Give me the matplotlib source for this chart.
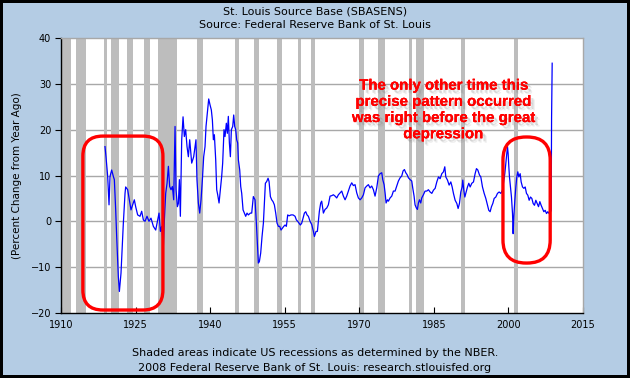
import matplotlib
matplotlib.use("Agg")
import matplotlib.pyplot as plt
import matplotlib.patheffects as pe
from matplotlib.patches import FancyBboxPatch
from matplotlib.transforms import IdentityTransform

# ---------------- data ----------------
title = "St. Louis Source Base (SBASENS)"
subtitle = "Source: Federal Reserve Bank of St. Louis"
ylabel = "(Percent Change from Year Ago)"
footer1 = "Shaded areas indicate US recessions as determined by the NBER."
footer2 = "2008 Federal Reserve Bank of St. Louis: research.stlouisfed.org"
note = "The only other time this\nprecise pattern occurred\nwas right before the great\ndepression"

x_ticks = [1910, 1925, 1940, 1955, 1970, 1985, 2000, 2015]
y_ticks = [-20, -10, 0, 10, 20, 30, 40]

recession_start = [1910.0, 1913.0, 1918.58, 1920.0, 1923.33, 1926.75, 1929.58, 1937.33,
                   1945.08, 1948.83, 1953.5, 1957.58, 1960.25, 1969.92, 1973.83,
                   1980.0, 1981.5, 1990.5, 2001.17]
recession_end = [1912.08, 1915.0, 1919.25, 1921.58, 1924.58, 1927.92, 1933.25, 1938.5,
                 1945.83, 1949.83, 1954.42, 1958.33, 1961.17, 1970.92, 1975.25,
                 1980.58, 1982.92, 1991.25, 2001.92]

years = [
    1918.85, 1919.05, 1919.39, 1919.66, 1919.86, 1920.19, 1920.53, 1920.73, 1921.0, 1921.2,
    1921.53, 1921.74, 1922.07, 1922.54, 1922.88, 1923.01, 1923.41, 1923.75, 1924.08, 1924.42,
    1924.75, 1925.02, 1925.42, 1925.89, 1926.23, 1926.57, 1926.9, 1927.3, 1927.7, 1928.1,
    1928.58, 1929.05, 1929.45, 1929.72, 1929.99, 1930.25, 1930.59, 1930.79, 1931.06, 1931.33,
    1931.6, 1931.86, 1932.13, 1932.4, 1932.67, 1932.94, 1933.14, 1933.41, 1933.61, 1933.81,
    1934.01, 1934.28, 1934.55, 1934.81, 1935.08, 1935.35, 1935.62, 1935.89, 1936.29, 1936.69,
    1936.96, 1937.15, 1937.35, 1937.63, 1937.9, 1938.17, 1938.44, 1938.7, 1938.97,
    1939.17, 1939.5, 1939.71, 1939.98, 1940.24, 1940.45, 1940.65, 1940.85, 1941.12, 1941.32,
    1941.52, 1941.79, 1942.05, 1942.32, 1942.52, 1942.79, 1942.99, 1943.26, 1943.46, 1943.66,
    1943.87, 1944.07, 1944.27, 1944.54, 1944.74, 1944.94, 1945.14, 1945.34, 1945.54, 1945.68,
    1945.95, 1946.15, 1946.35, 1946.62, 1946.88, 1947.15, 1947.42, 1947.69, 1948.09, 1948.36,
    1948.69, 1949.03, 1949.3, 1949.5, 1949.7, 1949.9, 1950.17, 1950.44, 1950.71, 1950.91,
    1951.11, 1951.38, 1951.65, 1951.85, 1952.12, 1952.38, 1952.65, 1952.92, 1953.19, 1953.46,
    1953.73, 1953.99, 1954.26, 1954.53, 1954.8, 1955.07, 1955.33, 1955.6, 1955.87, 1956.27,
    1956.68, 1957.08, 1957.35, 1957.61, 1957.88, 1958.15, 1958.42, 1958.69, 1958.96, 1959.23,
    1959.49, 1959.76,
    1960.1, 1960.43, 1960.77, 1960.97, 1961.3, 1961.57, 1961.77, 1961.97, 1962.24, 1962.44,
    1962.78, 1963.11, 1963.45, 1963.78, 1964.12, 1964.46, 1964.79, 1965.13, 1965.46, 1965.8,
    1966.13, 1966.47, 1966.8, 1967.14, 1967.47, 1967.81, 1968.14, 1968.48, 1968.81, 1969.15,
    1969.49, 1969.82, 1970.16, 1970.49, 1970.83, 1971.16, 1971.5, 1971.83, 1972.17, 1972.5,
    1972.84, 1973.17, 1973.51, 1973.85, 1974.18, 1974.52, 1974.72, 1974.99, 1975.19, 1975.39,
    1975.66, 1975.86, 1976.19, 1976.53, 1976.86, 1977.2, 1977.53, 1977.87, 1978.21, 1978.54,
    1978.81, 1979.08, 1979.35, 1979.61, 1979.88, 1980.22, 1980.55, 1980.75, 1981.02, 1981.22,
    1981.49, 1981.69, 1981.89, 1982.1, 1982.36, 1982.56, 1982.9, 1983.23, 1983.57, 1983.9,
    1984.25, 1984.59, 1984.92, 1985.26, 1985.59, 1985.93, 1986.26, 1986.6, 1986.93, 1987.2,
    1987.4, 1987.74, 1988.07, 1988.41, 1988.68, 1988.94, 1989.28, 1989.62, 1989.88, 1990.15,
    1990.42, 1990.69, 1990.82, 1991.02, 1991.23, 1991.49, 1991.76, 1992.03, 1992.3, 1992.63,
    1992.97, 1993.3, 1993.57, 1993.84, 1994.18, 1994.44, 1994.78, 1995.12, 1995.45, 1995.79,
    1996.05, 1996.32, 1996.59, 1996.86, 1997.13, 1997.46, 1997.8, 1998.13, 1998.47, 1998.8,
    1999.0, 1999.27, 1999.54, 1999.81, 1999.94, 2000.08, 2000.21, 2000.41, 2000.61, 2000.82,
    2000.95, 2001.08, 2001.29, 2001.49, 2001.69, 2001.89, 2002.09, 2002.36, 2002.56, 2002.83,
    2003.1, 2003.37, 2003.63, 2003.9, 2004.17, 2004.44, 2004.71, 2004.97, 2005.24, 2005.51,
    2005.78, 2006.05, 2006.32, 2006.58, 2006.85, 2007.12, 2007.39, 2007.66, 2007.93, 2008.19,
    2008.45, 2008.6, 2008.68, 2008.8,
]
pct_change = [
    16.3, 14.1, 9.8, 3.6, 9.8, 11.2, 9.8, 9.1, 2.5, -3.3,
    -12.0, -15.3, -11.3, -0.4, 6.1, 7.5, 6.9, 4.7, 2.5, 3.6,
    4.7, 3.2, 1.4, 1.1, 2.2, 0.3, 0.0, 1.1, 0.0, 0.7,
    -1.1, -1.9, 0.3, 1.8, -2.2, -1.1, -5.5, 0.3, 6.1, 8.3,
    12.0, 7.6, 6.9, 7.6, 4.7, 20.7, 6.9, 3.2, 3.9, 9.1,
    1.1, 17.8, 22.8, 18.5, 20.0, 16.3, 14.1, 17.8, 12.7, 14.1,
    16.3, 17.8, 9.1, 4.0, 1.8, 4.7, 9.1, 14.1, 16.3,
    20.7, 24.3, 26.7, 25.4, 24.3, 22.1, 17.8, 18.9, 13.4, 6.9,
    5.8, 4.0, 6.9, 9.8, 12.7, 20.0, 18.5, 21.4, 19.2, 22.9,
    17.1, 14.1, 20.0, 20.7, 23.2, 20.7, 20.0, 17.8, 17.1, 13.4,
    11.2, 7.6, 6.1, 2.5, 1.8, 1.1, 1.8, 1.4, 1.8, 1.8,
    5.4, 4.7, -0.4, -4.8, -9.1, -8.8, -6.9, -3.3, -0.4, 4.0,
    8.3, 8.7, 9.4, 8.7, 5.4, 4.7, 4.3, 3.6, 1.8, -0.4,
    -1.1, -1.1, -1.9, -1.5, -1.1, -0.8, -1.1, 1.4, 1.2, 1.4,
    1.4, 1.1, 0.3, 0.0, -0.4, -0.8, -0.4, 0.7, 1.8, 2.1,
    1.4, 1.1,
    0.0, -0.7, -2.2, -3.3, -2.2, -2.2, 0.0, 2.2, 4.0, 4.4,
    1.8, 2.6, 2.9, 3.6, 5.5, 5.6, 5.8, 5.5, 5.1, 5.8,
    6.2, 6.6, 5.5, 4.7, 5.5, 6.6, 7.7, 8.4, 7.8, 8.0,
    6.2, 5.1, 4.7, 5.1, 5.8, 7.3, 7.7, 8.0, 7.3, 7.7,
    6.9, 5.5, 7.3, 9.9, 10.4, 10.6, 9.1, 8.0, 6.2, 4.0,
    4.7, 4.4, 5.1, 5.5, 6.6, 6.6, 7.7, 8.8, 9.5, 9.9,
    11.0, 11.3, 10.6, 10.2, 9.5, 9.1, 8.8, 7.3, 5.5, 3.6,
    2.9, 2.6, 4.0, 4.7, 4.0, 5.1, 5.8, 6.6, 6.6, 6.9,
    6.4, 6.1, 6.8, 7.2, 8.6, 9.7, 9.3, 10.4, 10.8, 11.9,
    9.7, 9.0, 7.9, 8.6, 7.5, 6.1, 4.6, 3.9, 2.8, 3.9,
    6.4, 7.5, 9.0, 6.8, 5.3, 6.4, 7.5, 8.3, 7.5, 8.3,
    8.6, 10.4, 11.5, 11.2, 10.1, 9.7, 7.5, 6.1, 5.0, 3.5,
    2.4, 2.1, 3.2, 3.9, 5.0, 5.3, 6.1, 6.4, 6.1, 6.8,
    8.3, 10.4, 13.3, 16.3, 14.8, 11.9, 9.7, 7.5, 5.3, 1.7,
    -2.7, 1.0, 4.6, 7.5, 9.7, 10.8, 9.7, 10.4, 8.6, 7.5,
    7.2, 7.5, 6.1, 5.7, 4.6, 5.3, 5.0, 3.9, 3.5, 4.6,
    3.9, 3.2, 4.3, 3.5, 2.8, 2.1, 2.4, 1.7, 2.1, 1.7,
    2.0, 2.4, 22.6, 34.5,
]

# highlight boxes: (x0, x1, y0, y1) in data units
box_left = (1914.4, 1930.5, -19.35, 18.6)
box_right = (1998.9, 2008.4, -9.1, 18.4)

# ---------------- style ----------------
BG = "#B4CCE4"
GRID = "#A8A8A8"
SHADE = "#BDBDBD"

W, H, DPI = 630, 378, 100
fig = plt.figure(figsize=(W / DPI, H / DPI), dpi=DPI)
fig.patch.set_facecolor(BG)
fig.patch.set_edgecolor("black")
fig.patch.set_linewidth(3)

L, R, T, B = 61, 583, 38, 313
ax = fig.add_axes([L / W, 1 - B / H, (R - L) / W, (B - T) / H])
ax.set_facecolor("white")
ax.set_xlim(1910, 2015)
ax.set_ylim(-20, 40)

for s, e in zip(recession_start, recession_end):
    ax.axvspan(s, e, color=SHADE, lw=0, zorder=1)

for yv in y_ticks[1:-1]:
    ax.axhline(yv, color=GRID, lw=1.0, zorder=0.5)

ax.plot(years, pct_change, color="#0000FF", lw=0.9, zorder=3)

ax.set_xticks(x_ticks)
ax.set_yticks(y_ticks)
ax.tick_params(axis="x", direction="in", length=4, pad=5, labelsize=7, colors="black")
ax.tick_params(axis="y", direction="out", length=4, pad=3, labelsize=7, colors="black")
for sp in ["top", "right"]:
    ax.spines[sp].set_color(GRID)
    ax.spines[sp].set_linewidth(1.0)
for sp in ["left", "bottom"]:
    ax.spines[sp].set_color("black")
    ax.spines[sp].set_linewidth(1.0)
ax.set_ylabel(ylabel, fontsize=7.5, labelpad=6)

fig.text(0.5, 1 - 11 / H, title, ha="center", va="center", fontsize=8)
fig.text(0.5, 1 - 25 / H, subtitle, ha="center", va="center", fontsize=8)
fig.text(0.5, 1 - 353 / H, footer1, ha="center", va="center", fontsize=8)
fig.text(0.5, 1 - 368 / H, footer2, ha="center", va="center", fontsize=8)

# red rounded highlight boxes (drawn in pixel space so the corners stay round)
for (x0, x1, y0, y1), rad in [(box_left, 20), (box_right, 23)]:
    (px0, py0) = ax.transData.transform((x0, y0))
    (px1, py1) = ax.transData.transform((x1, y1))
    patch = FancyBboxPatch((px0, py0), px1 - px0, py1 - py0,
                           boxstyle=f"round,pad=0,rounding_size={rad}",
                           transform=IdentityTransform(), fc="none",
                           ec="#FF0000", lw=2.4, zorder=6)
    fig.add_artist(patch)

shadow = [pe.withSimplePatchShadow(offset=(o, -o), shadow_rgbFace="#777777", alpha=a)
          for o, a in ((2.2, 0.22), (3.2, 0.12))]
ax.text(1986.9, 24.3, note, ha="center", va="center", multialignment="center",
        fontsize=10.8, fontweight="bold", family=["Liberation Sans", "DejaVu Sans"],
        color="#FF0000", linespacing=1.2, zorder=7,
        path_effects=shadow + [pe.Normal()])

fig.savefig("out.png", dpi=DPI, facecolor=BG)
